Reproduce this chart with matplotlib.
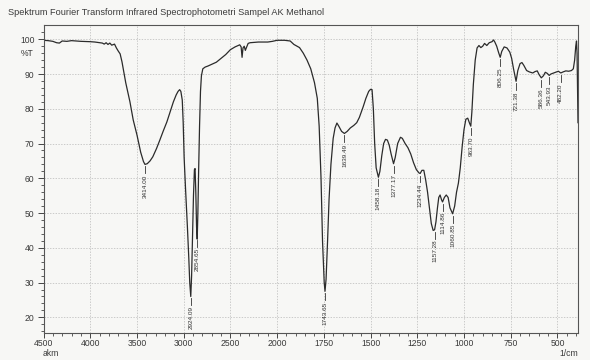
import numpy as np
import matplotlib
matplotlib.use('Agg')
import matplotlib.pyplot as plt
from matplotlib.ticker import FixedLocator

plt.rcParams['font.family'] = ['Liberation Sans', 'DejaVu Sans']

# FTIR spectrum (wavenumber 1/cm, %T)
wavenumber = [4500, 4450, 4400, 4360, 4330, 4300, 4250, 4200, 4150, 4100,
              4000, 3950, 3900, 3870, 3850, 3830, 3810, 3790, 3770, 3740,
              3720, 3700, 3680, 3660, 3640, 3620, 3600, 3575, 3540, 3500,
              3460, 3430, 3414, 3390, 3360, 3330, 3290, 3255, 3220, 3180,
              3140, 3110, 3080, 3060, 3043, 3030, 3015, 3005, 2995, 2980,
              2960, 2945, 2935, 2924, 2915, 2905, 2895, 2885, 2878, 2870,
              2862, 2855, 2848, 2840, 2830, 2820, 2810, 2795, 2770, 2740,
              2700, 2650, 2600, 2550, 2500, 2450, 2400, 2385, 2375, 2365,
              2352, 2340, 2330, 2310, 2290, 2250, 2200, 2100, 2050, 2000,
              1960, 1930, 1910, 1880, 1860, 1840, 1820, 1800, 1785, 1775,
              1765, 1757, 1748, 1743.65, 1738, 1730, 1722, 1712, 1700, 1690,
              1680, 1670, 1655, 1640, 1625, 1608, 1590, 1574, 1560, 1540,
              1525, 1510, 1500, 1492, 1485, 1478, 1470, 1458, 1450, 1440,
              1430, 1420, 1410, 1400, 1390, 1377, 1368, 1355, 1340, 1330,
              1315, 1300, 1285, 1270, 1255, 1240, 1234.44, 1225, 1215, 1205,
              1195, 1185, 1175, 1165, 1157.28, 1150, 1142, 1135, 1128, 1120,
              1114.86, 1105, 1095, 1085, 1075, 1060.85, 1050, 1040, 1030, 1020,
              1010, 1000, 990, 980, 970, 963.7, 958, 950, 940, 930,
              920, 910, 900, 890, 878, 865, 850, 842, 835, 825,
              815, 806.25, 798, 785, 770, 755, 745, 735, 721.38, 712,
              700, 690, 680, 665, 650, 632, 620, 608, 598, 586.36,
              575, 565, 555, 543.93, 535, 520, 505, 495, 482.2, 470,
              455, 440, 425, 415, 408, 402, 398, 395, 392, 390]
transmittance = [99.7, 99.6, 99.4, 99.0, 98.9, 99.5, 99.4, 99.6, 99.5, 99.4,
                 99.3, 99.2, 99.0, 98.9, 98.6, 99.0, 98.5, 98.9, 98.3, 98.6,
                 97.5, 96.6, 95.8, 93.5, 90.5, 87.5, 85.0, 82.0, 76.8, 72.5,
                 67.5, 64.8, 64.0, 64.2, 65.0, 66.2, 68.6, 71.0, 73.5, 76.2,
                 79.5, 82.0, 84.0, 85.0, 85.5, 85.0, 82.5, 76.0, 66.0, 57.0,
                 46.0, 37.0, 30.0, 26.0, 32.0, 43.0, 55.0, 62.5, 62.8, 56.0,
                 46.0, 42.5, 50.0, 62.0, 75.0, 85.0, 89.5, 91.5, 92.0, 92.3,
                 92.8, 93.4, 94.5, 95.6, 97.0, 97.8, 98.4, 97.8, 94.8, 97.5,
                 98.0, 96.8, 97.5, 98.8, 99.0, 99.1, 99.2, 99.2, 99.4, 99.7,
                 99.7, 99.5, 98.5, 97.6, 96.0, 94.0, 91.5, 87.5, 83.0, 75.0,
                 60.0, 42.0, 30.0, 27.5, 31.0, 42.0, 54.0, 64.0, 71.5, 74.5,
                 75.9, 75.0, 73.5, 72.9, 73.5, 74.5, 75.2, 76.0, 77.5, 80.5,
                 83.0, 85.0, 85.6, 85.5, 80.0, 70.0, 63.0, 60.3, 62.0, 66.5,
                 70.0, 71.2, 71.0, 69.5, 67.0, 64.2, 66.0, 70.0, 71.8, 71.5,
                 70.0, 68.8, 67.0, 64.5, 62.5, 61.5, 61.4, 62.3, 62.3, 59.5,
                 56.0, 51.5, 47.0, 45.0, 45.2, 47.5, 51.5, 54.5, 55.2, 53.8,
                 53.2, 54.5, 55.2, 54.5, 51.5, 49.8, 52.0, 56.0, 58.6, 63.0,
                 69.0, 74.0, 77.0, 77.3, 75.8, 75.0, 79.0, 87.0, 94.0, 97.5,
                 98.2, 97.6, 98.0, 98.8, 98.2, 99.0, 99.3, 99.8, 99.2, 98.0,
                 96.2, 94.8, 96.5, 97.8, 97.5, 96.3, 94.5, 91.5, 87.9, 91.0,
                 93.0, 93.3, 92.5, 91.0, 90.6, 90.3, 90.7, 90.9, 89.8, 88.9,
                 89.5, 90.5, 90.2, 89.6, 90.0, 90.3, 90.6, 90.8, 90.3, 90.6,
                 90.9, 90.8, 91.0, 91.5, 94.0, 98.0, 99.5, 96.0, 85.0, 76.0]

peaks = [3414.00, 2924.09, 2854.65, 1743.65, 1639.49, 1458.18, 1377.17,
         1234.44, 1157.28, 1114.86, 1060.85, 963.70, 806.25, 721.38,
         586.36, 543.93, 482.20]

x_major = [4500, 4000, 3500, 3000, 2500, 2000, 1750, 1500, 1250, 1000, 750, 500]
y_major = [20, 30, 40, 50, 60, 70, 80, 90, 100]


# the chart uses double scale below 2000 1/cm
def fwd(x):
    x = np.asarray(x, dtype=float)
    return np.where(x >= 2000, x, 2 * x - 2000)


def inv(y):
    y = np.asarray(y, dtype=float)
    return np.where(y >= 2000, y, (y + 2000) / 2)


bg = '#f7f7f5'
fig = plt.figure(figsize=(5.9, 3.6), dpi=100, facecolor=bg)
ax = fig.add_axes([43.5 / 590, 1 - 333 / 360, (578 - 43.5) / 590, (333 - 25) / 360])
ax.set_facecolor(bg)

ax.set_xscale('function', functions=(fwd, inv))
ax.plot(wavenumber, transmittance, color='#2b2b2b', lw=0.9)
ax.set_xlim(4500, 390)
ax.set_ylim(15.5, 104.1)

minor_x = list(range(4500, 2000, -100)) + list(range(2000, 389, -50))
ax.xaxis.set_major_locator(FixedLocator(x_major))
ax.xaxis.set_minor_locator(FixedLocator(minor_x))
ax.set_xticklabels([str(v) for v in x_major])
ax.yaxis.set_major_locator(FixedLocator(y_major))
ax.yaxis.set_minor_locator(FixedLocator(list(range(16, 104, 2))))

ax.tick_params(which='major', length=4.5, width=0.7, color='#444444',
               labelsize=6.2, labelcolor='#3a3a3a', pad=2)
ax.tick_params(axis='x', which='major', length=3.5, pad=1)
ax.tick_params(which='minor', length=2.5, width=0.6, color='#444444')
for s in ax.spines.values():
    s.set_color('#555555')
    s.set_linewidth(0.8)

ax.grid(True, which='major', color='#b8b8b8', linestyle=(0, (2, 2)), lw=0.5)
ax.set_axisbelow(True)

# peak annotations
wn_inc = np.array(wavenumber)[::-1]
t_inc = np.array(transmittance)[::-1]
for p in peaks:
    t = np.interp(p, wn_inc, t_inc)
    ax.plot([p, p], [t - 0.6, t - 2.6], color='#333333', lw=0.6)
    ax.text(p, t - 2.9, f'{p:.2f}', rotation=90, ha='center', va='top',
            fontsize=4.6, color='#333333')

fig.text(8 / 590, 1 - 12.5 / 360,
         'Spektrum Fourier Transform Infrared Spectrophotometri Sampel AK Methanol',
         fontsize=6.6, color='#3a3a3a', va='center', ha='left')
fig.text(27 / 590, 1 - 54 / 360, '%T', fontsize=6.2, color='#3a3a3a',
         ha='center', va='center')
fig.text(51 / 590, 1 - 354 / 360, 'akm', fontsize=6.2, color='#3a3a3a',
         ha='center', va='center')
fig.text(578 / 590, 1 - 354 / 360, '1/cm', fontsize=6.2, color='#3a3a3a',
         ha='right', va='center')

fig.savefig('out.png', dpi=100, facecolor=bg)
